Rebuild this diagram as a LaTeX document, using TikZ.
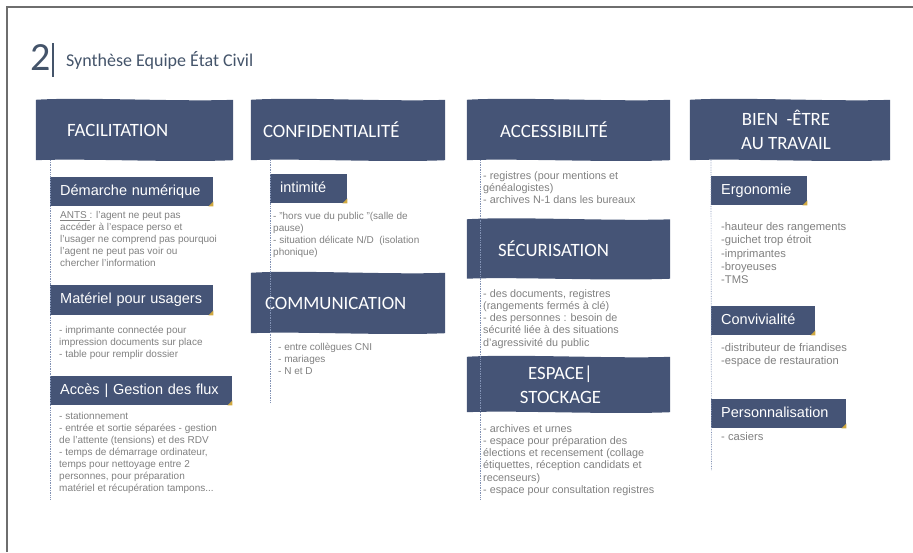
\documentclass[tikz,border=0pt]{standalone}
\usepackage{fontspec}
\setmainfont{Liberation Sans}
\newfontfamily\carl{Carlito}
\usetikzlibrary{positioning}
\definecolor{hdblue}{RGB}{69,84,118}
\definecolor{ttlblue}{RGB}{68,84,106}
\definecolor{txtgray}{RGB}{128,128,128}
\definecolor{foldgold}{RGB}{208,168,62}
\definecolor{dotblue}{RGB}{130,146,180}
\definecolor{framegray}{RGB}{110,110,110}
\tikzset{head/.style={inner sep=0pt},
  headfill/.style={fill=hdblue},
  headtxt/.style={text=white, inner sep=0pt, align=center, font=\carl\fontsize{18.8}{24}\selectfont},
  subbox/.style={fill=hdblue, text=white, anchor=north west, inner xsep=10pt, inner ysep=2pt, minimum height=29pt, align=left, text height=10.5pt, text depth=3pt, font=\fontsize{14.5}{17}\selectfont},
  body/.style={text=txtgray, anchor=north west, inner sep=0pt, align=left, font=\fontsize{10}{12}\selectfont},
  fold/.style={fill=foldgold},
  spine/.style={dotblue, densely dotted, line width=0.7pt}}

\begin{document}
\begin{tikzpicture}[x=1pt, y=-1pt]
   \useasboundingbox (0,0) rectangle (913,552);
   \draw[framegray, line width=1.2pt] (7,552) -- (7,7) -- (913,7);
   % title
   \node[ttlblue, inner sep=0pt, font=\carl\fontsize{40}{40}\selectfont] (num) at (41,58) {2};
   \draw[ttlblue, line width=1.1pt] (53,43) -- (53,77);
   \node[ttlblue, anchor=west, inner sep=0pt, font=\carl\fontsize{18}{20}\selectfont] (ttl) at (66,60) {Synthèse Equipe État Civil};
   % headers
   \node[head, minimum width=197pt, minimum height=60pt] (facil) at (134.5,130) {};
   \node[head, minimum width=194pt, minimum height=60pt] (confid) at (348,130) {};
   \node[head, minimum width=203pt, minimum height=60pt] (access) at (568.5,130) {};
   \node[head, minimum width=200pt, minimum height=60pt] (bien) at (790,130) {};
   \node[head, minimum width=194pt, minimum height=60pt] (commun) at (348,303) {};
   \node[head, minimum width=203pt, minimum height=59pt] (secur) at (568.5,249) {};
   \node[head, minimum width=203pt, minimum height=55pt] (espace) at (568.5,384.5) {};
   \foreach \h in {facil,confid,access,bien,commun,secur,espace}
     \fill[headfill] (\h.north west) .. controls +(45pt,3pt) and +(-55pt,-2pt) .. (\h.north east)
       -- (\h.south east) .. controls +(-60pt,-2.5pt) and +(50pt,2pt) .. (\h.south west) -- cycle;
   \node[headtxt, right=31pt of facil.west] (facilT) {FACILITATION};
   \node[headtxt, right=12pt of confid.west] (confidT) {CONFIDENTIALITÉ};
   \node[headtxt, right=33pt of access.west] (accessT) {ACCESSIBILITÉ};
   \node[headtxt, right=14pt of commun.west] (communT) {COMMUNICATION};
   \node[headtxt, right=31pt of secur.west] (securT) {SÉCURISATION};
   \node[headtxt, xshift=-8pt] (espaceT) at (espace) {ESPACE|\\STOCKAGE};
   \node[headtxt, xshift=-4pt] (bienT) at (bien) {BIEN\ \ -ÊTRE\\AU TRAVAIL};
   % sub boxes
   \node[subbox, text width=143pt] (dem) at (50,177) {Démarche numérique};
   \node[subbox, text width=143pt, minimum height=30pt] (mat) at (50,285) {Matériel pour usagers};
   \node[subbox, text width=162pt] (acc) at (50,376) {Accès | Gestion des flux};
   \node[subbox, text width=57pt] (inti) at (270,174) {intimité};
   \node[subbox, text width=76pt] (ergo) at (711,176) {Ergonomie};
   \node[subbox, text width=84pt] (conv) at (711,306) {Convivialité};
   \node[subbox, text width=115pt] (pers) at (711,399) {Personnalisation};
   \foreach \n in {dem,mat,acc,inti,ergo,conv,pers}
     \fill[fold] (\n.south east) -- ++(-5pt,0pt) -- ++(5pt,5pt) -- cycle;
   % texts
   \node[body] (demB) at (60,211) {\underline{ANTS }: l'agent ne peut pas\\accéder à l'espace perso et\\l'usager ne comprend pas pourquoi\\l'agent ne peut pas voir ou\\chercher l'information};
   \node[body] (matB) at (59,326) {- imprimante  connectée pour\\impression documents sur place\\- table  pour remplir  dossier};
   \node[body] (accB) at (59,412) {- stationnement\\- entrée et sortie séparées - gestion\\de l'attente (tensions) et des RDV\\- temps de démarrage ordinateur,\\temps pour nettoyage entre 2\\personnes, pour préparation\\matériel et récupération tampons...};
   \node[body] (intiB) at (273,212) {- "hors vue du public "(salle de\\pause)\\- situation délicate N/D\ \ (isolation\\phonique)};
   \node[body] (communB) at (278,343) {- entre collègues CNI\\- mariages\\- N et D};
   \node[body, font=\fontsize{10.8}{12.3}\selectfont] (accessB) at (483,171) {- registres (pour mentions et\\généalogistes)\\- archives N-1 dans les bureaux};
   \node[body, font=\fontsize{10.8}{12.3}\selectfont] (securB) at (483,289) {- des documents, registres\\(rangements fermés à clé)\\- des personnes : besoin de\\sécurité liée à des situations\\d'agressivité du public};
   \node[body, font=\fontsize{10.8}{12.3}\selectfont] (espaceB) at (483,424) {- archives et urnes\\- espace pour préparation des\\élections et recensement (collage\\étiquettes, réception candidats et\\recenseurs)\\- espace pour consultation registres};
   \node[body, font=\fontsize{11.2}{13.4}\selectfont] (ergoB) at (721,222) {-hauteur des rangements\\-guichet trop étroit\\-imprimantes\\-broyeuses\\-TMS};
   \node[body, font=\fontsize{11.2}{13.4}\selectfont] (convB) at (721,343) {-distributeur de friandises\\-espace de restauration};
   \node[body, font=\fontsize{11.2}{13.4}\selectfont] (persB) at (721,432) {- casiers};
   % spines
   \coordinate (facilEnd) at (50,500);
   \coordinate (confidEnd) at (270,402);
   \coordinate (accessEnd) at (480.5,500);
   \coordinate (bienEnd) at (711.5,470);
   \draw[spine] (facil.south -| dem.west) -- (facilEnd);
   \draw[spine] (confid.south -| inti.west) -- (confidEnd);
   \draw[spine] (access.south -| accessEnd) -- (accessEnd);
   \draw[spine] (bien.south -| ergo.west) -- (bienEnd);
\end{tikzpicture}
\end{document}
